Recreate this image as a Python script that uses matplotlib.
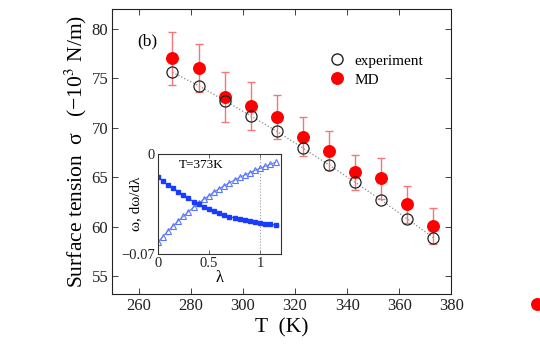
"""
Surface tension of water vs temperature: experiment and MD, with inset of
omega and d(omega)/d(lambda) at T=373K. Matlab-style figure panel (b).
"""
import numpy as np
import matplotlib
matplotlib.use('Agg')
import matplotlib.pyplot as plt
from matplotlib.lines import Line2D

plt.rcParams['font.family'] = ['Liberation Serif', 'DejaVu Serif']
plt.rcParams['mathtext.fontset'] = 'stix'

# ── main panel data ──
T_K = [273, 283, 293, 303, 313, 323, 333, 343, 353, 363, 373]
SIGMA_EXP = [75.6, 74.25, 72.75, 71.2, 69.65, 67.95, 66.25, 64.5, 62.7, 60.8, 58.9]
SIGMA_MD = [77.0, 76.05, 73.1, 72.2, 71.1, 69.1, 67.7, 65.5, 64.9, 62.25, 60.1]
SIGMA_MD_ERR = [2.7, 2.4, 2.5, 2.45, 2.2, 2.0, 1.95, 1.75, 2.05, 1.9, 1.8]
STRAY_T = [412.7]          # stray MD marker left outside the axes
STRAY_SIGMA = [52.2]

# ── inset data (T=373K) ──
LAM = [0.0, 0.05, 0.10, 0.15, 0.20, 0.25, 0.30, 0.35, 0.40, 0.45, 0.50, 0.55,
       0.60, 0.65, 0.70, 0.75, 0.80, 0.85, 0.90, 0.95, 1.00, 1.05, 1.10, 1.15]
DOMEGA = [-0.0159, -0.0189, -0.0217, -0.0240, -0.0264, -0.0287, -0.0310, -0.0334,
          -0.0352, -0.0369, -0.0385, -0.0399, -0.0413, -0.0427, -0.0439, -0.0448,
          -0.0457, -0.0464, -0.0471, -0.0478, -0.0483, -0.0488, -0.0492, -0.0497]
OMEGA = [-0.0618, -0.0579, -0.0539, -0.0504, -0.0469, -0.0436, -0.0404, -0.0373,
         -0.0345, -0.0317, -0.0292, -0.0266, -0.0243, -0.0222, -0.0201, -0.0182,
         -0.0163, -0.0147, -0.0131, -0.0114, -0.0100, -0.0086, -0.0072, -0.0058]

fig = plt.figure(figsize=(5.4, 3.53), dpi=100, facecolor='white')
ax = fig.add_axes([0.2083, 0.1671, 0.6278, 0.8074])

ax.plot(T_K, SIGMA_EXP, ls=':', color='#888888', lw=0.9, zorder=2)
ax.errorbar(T_K, SIGMA_MD, yerr=SIGMA_MD_ERR, fmt='none', ecolor='#f07878',
            elinewidth=1.0, capsize=3, capthick=1.0, zorder=3)
ax.plot(T_K, SIGMA_MD, 'o', color='#ff0000', ms=8.3, mec='#ff0000', zorder=4, label='MD')
ax.plot(T_K, SIGMA_EXP, 'o', mfc='none', mec='#222222', mew=0.9, ms=8, zorder=5,
        label='experiment')
ax.plot(STRAY_T, STRAY_SIGMA, 'o', color='#ff0000', ms=8.3, clip_on=False, zorder=5)

ax.set_xlim(250, 380)
ax.set_ylim(53.2, 82.0)
ax.set_xticks([260, 280, 300, 320, 340, 360, 380])
ax.set_yticks([55, 60, 65, 70, 75, 80])
ax.tick_params(direction='in', top=True, right=True, labelsize=12, length=4,
               width=0.6, pad=3, colors='#222222')
for s in ax.spines.values():
    s.set_linewidth(0.8); s.set_color('#222222')
ax.set_xlabel('T  (K)', fontsize=15.5, labelpad=3)
ax.set_ylabel('Surface tension  σ   (−10$^{3}$ N/m)', fontsize=15.5, labelpad=2)

h_exp = Line2D([0], [0], marker='o', ls='none', mfc='none', mec='#222222', ms=8)
h_md = Line2D([0], [0], marker='o', ls='none', color='#ff0000', ms=8.3)
ax.legend([h_exp, h_md], ['experiment', 'MD'], loc='upper left',
          bbox_to_anchor=(0.595, 0.89), frameon=False, fontsize=11,
          handletextpad=0.55, labelspacing=0.35, handlelength=1.2)

ax.text(263.5, 78.7, '(b)', fontsize=12.5, ha='center', va='center')

# ── inset ──
ins = fig.add_axes([0.292, 0.2805, 0.2278, 0.2833])
ins.axvline(1.0, ls=':', color='#999999', lw=0.8)
ins.plot(LAM, OMEGA, '-^', color='#6a86ff', mfc='none', mec='#5a78ff', ms=4.5,
         mew=0.8, lw=0.8)
ins.plot(LAM, DOMEGA, '-s', color='#1a3cff', ms=3.5, lw=0.8)
ins.set_xlim(0, 1.2)
ins.set_ylim(-0.07, 0)
ins.set_xticks([0, 0.5, 1])
ins.set_xticklabels(['0', '0.5', '1'])
ins.set_yticks([-0.07, 0])
ins.set_yticklabels(['−0.07', '0'])
ins.tick_params(direction='in', top=True, right=True, labelsize=10.5, length=3,
                width=0.5, pad=2, colors='#222222')
for s in ins.spines.values():
    s.set_linewidth(0.8); s.set_color('#333333')
ins.set_xlabel('λ', fontsize=12, labelpad=0)
ins.set_ylabel('ω, dω/dλ', fontsize=11)
ins.yaxis.set_label_coords(-0.13, 0.5)
ins.text(0.17, 0.89, 'T=373K', transform=ins.transAxes, fontsize=9.5,
         ha='left', va='center')

fig.savefig('out.png', dpi=100, facecolor='white')
